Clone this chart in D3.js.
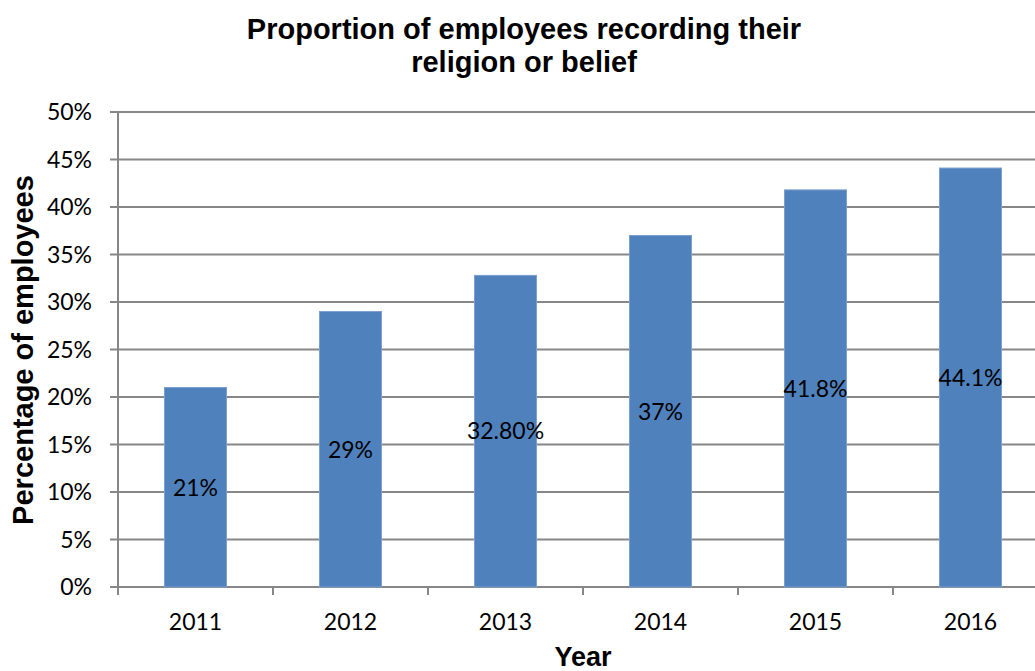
<!DOCTYPE html>
<html>
<head>
<meta charset="utf-8">
<script src="https://cdn.jsdelivr.net/npm/d3@7"></script>
<style>
  html, body { margin: 0; padding: 0; background: #fff; }
  svg { display: block; overflow: hidden; }
</style>
</head>
<body>
<div id="chart"></div>
<script>
// --- data ---
const years = ["2011", "2012", "2013", "2014", "2015", "2016"];
const values = [21, 29, 32.8, 37, 41.8, 44.1];
const valueLabels = ["21%", "29%", "32.80%", "37%", "41.8%", "44.1%"];
const yTicks = [0, 5, 10, 15, 20, 25, 30, 35, 40, 45, 50];

const width = 1035, height = 671;
const margin = { top: 112, left: 118, bottom: 84 };
const plotRight = 1048; // plot runs off the right edge in the original

const svg = d3.select("#chart").append("svg")
    .attr("width", width)
    .attr("height", height);

const x = d3.scaleBand()
    .domain(years)
    .range([margin.left, plotRight])
    .paddingInner(0.6)
    .paddingOuter(0.3);

const y = d3.scaleLinear()
    .domain([0, 50])
    .range([height - margin.bottom, margin.top]);

const gridColor = "#878787";
const tickFont = "Lato, 'Open Sans', sans-serif";

// gridlines
svg.selectAll(".grid")
    .data(yTicks)
    .enter().append("line")
    .attr("x1", margin.left - 8)
    .attr("x2", plotRight)
    .attr("y1", d => y(d))
    .attr("y2", d => y(d))
    .attr("stroke", gridColor)
    .attr("stroke-width", 2);

// y axis line
svg.append("line")
    .attr("x1", margin.left).attr("x2", margin.left)
    .attr("y1", y(50)).attr("y2", y(0) + 8)
    .attr("stroke", gridColor)
    .attr("stroke-width", 2);

// x axis category ticks (between bands)
const step = x.step();
svg.selectAll(".xtick")
    .data(d3.range(years.length + 1))
    .enter().append("line")
    .attr("x1", i => margin.left + i * step)
    .attr("x2", i => margin.left + i * step)
    .attr("y1", y(0))
    .attr("y2", y(0) + 8)
    .attr("stroke", gridColor)
    .attr("stroke-width", 2);

// y tick labels
svg.selectAll(".ylab")
    .data(yTicks)
    .enter().append("text")
    .attr("x", 92)
    .attr("y", d => y(d))
    .attr("dy", "0.36em")
    .attr("text-anchor", "end")
    .style("font-family", tickFont)
    .style("font-size", "23px")
    .style("fill", "#000")
    .text(d => d + "%");

// bars
svg.selectAll(".bar")
    .data(values)
    .enter().append("rect")
    .attr("x", (d, i) => x(years[i]))
    .attr("y", d => y(d))
    .attr("width", x.bandwidth())
    .attr("height", d => y(0) - y(d))
    .attr("fill", "#4f81bd")
    .attr("stroke", "#7a9fd0")
    .attr("stroke-width", 1);

// value labels, centered in each bar
svg.selectAll(".vlab")
    .data(values)
    .enter().append("text")
    .attr("x", (d, i) => x(years[i]) + x.bandwidth() / 2)
    .attr("y", d => y(d / 2))
    .attr("dy", "0.36em")
    .attr("text-anchor", "middle")
    .style("font-family", tickFont)
    .style("font-size", "23px")
    .style("fill", "#000")
    .text((d, i) => valueLabels[i]);

// x labels
svg.selectAll(".xlab")
    .data(years)
    .enter().append("text")
    .attr("x", d => x(d) + x.bandwidth() / 2)
    .attr("y", 622)
    .attr("dy", "0.36em")
    .attr("text-anchor", "middle")
    .style("font-family", tickFont)
    .style("font-size", "23px")
    .style("fill", "#000")
    .text(d => d);

// titles
const titleFont = "'Liberation Sans', Arial, sans-serif";
const title = svg.append("text")
    .attr("text-anchor", "middle")
    .style("font-family", titleFont)
    .style("font-weight", "bold")
    .style("font-size", "29px");
title.append("tspan").attr("x", 524).attr("y", 39).text("Proportion of employees recording their");
title.append("tspan").attr("x", 524).attr("y", 72).text("religion or belief");

svg.append("text")
    .attr("x", 583)
    .attr("y", 666)
    .attr("text-anchor", "middle")
    .style("font-family", titleFont)
    .style("font-weight", "bold")
    .style("font-size", "27px")
    .text("Year");

svg.append("text")
    .attr("transform", "translate(33,350) rotate(-90)")
    .attr("text-anchor", "middle")
    .style("font-family", titleFont)
    .style("font-weight", "bold")
    .style("font-size", "29px")
    .text("Percentage of employees");
</script>
</body>
</html>
